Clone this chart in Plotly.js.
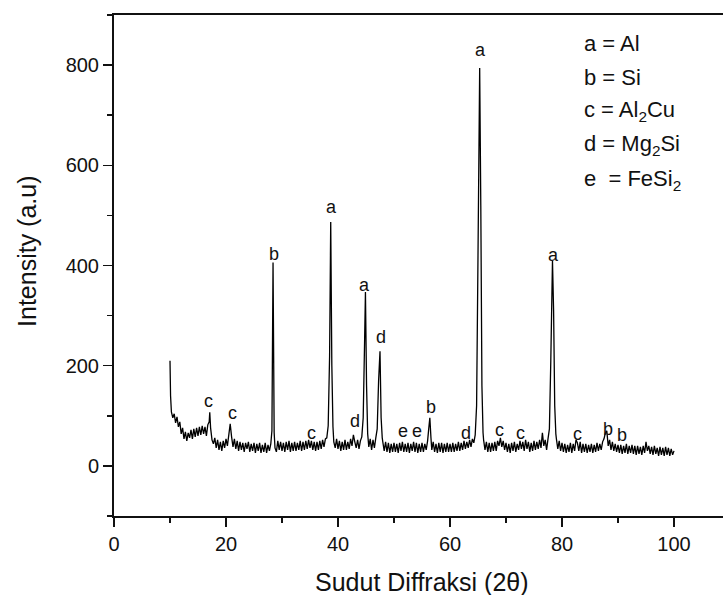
<!DOCTYPE html>
<html>
<head>
<meta charset="utf-8">
<script src="https://cdn.plot.ly/plotly-3.0.1.min.js"></script>
<style>html,body{margin:0;padding:0;background:#fff;}#chart{width:723px;height:595px;}</style>
</head>
<body>
<div id="chart"></div>
<script>
// Diffraction angle (2θ) and intensity (a.u.)
const angle = [
10.0,10.1,10.25,10.5,10.75,11.0,11.25,11.5,11.75,12.0,12.25,12.5,12.75,13.0,13.25,13.5,13.75,14.0,14.25,14.5,14.75,15.0,15.25,15.5,15.75,16.0,16.25,16.5,16.75,17.0,17.1,17.25,17.5,17.75,18.0,
18.25,18.5,18.75,19.0,19.25,19.5,19.75,20.0,20.25,20.5,20.75,21.0,21.25,21.5,21.75,22.0,22.25,22.5,22.75,23.0,23.25,23.5,23.75,24.0,24.25,24.5,24.75,25.0,25.25,25.5,25.75,26.0,26.25,26.5,26.75,27.0,27.25,27.5,27.75,28.0,28.2,28.4,28.6,28.75,
29.0,29.25,29.5,29.75,30.0,30.25,30.5,30.75,31.0,31.25,31.5,31.75,32.0,32.25,32.5,32.75,33.0,33.25,33.5,33.75,34.0,34.25,34.5,34.75,35.0,35.25,35.5,35.75,36.0,36.25,36.5,36.75,37.0,37.25,37.5,37.75,38.0,38.25,38.5,38.7,38.9,39.1,39.25,39.5,39.75,
40.0,40.25,40.5,40.75,41.0,41.25,41.5,41.75,42.0,42.25,42.5,42.75,43.0,43.25,43.5,43.75,44.0,44.25,44.5,44.75,44.9,45.1,45.3,45.5,45.75,46.0,46.25,46.5,46.75,47.0,47.25,47.5,47.7,47.9,48.0,48.25,48.5,48.75,49.0,49.25,49.5,49.75,
50.0,50.25,50.5,50.75,51.0,51.25,51.5,51.75,52.0,52.25,52.5,52.75,53.0,53.25,53.5,53.75,54.0,54.25,54.5,54.75,55.0,55.25,55.5,55.75,56.0,56.2,56.4,56.6,56.75,57.0,57.25,57.5,57.75,58.0,58.25,58.5,58.75,59.0,59.25,59.5,59.75,
60.0,60.25,60.5,60.75,61.0,61.25,61.5,61.75,62.0,62.25,62.5,62.75,63.0,63.25,63.5,63.75,64.0,64.25,64.5,64.75,65.0,65.3,65.5,65.7,65.9,66.0,66.25,66.5,66.75,67.0,67.25,67.5,67.75,68.0,68.25,68.5,68.75,69.0,69.25,69.5,69.75,
70.0,70.25,70.5,70.75,71.0,71.25,71.5,71.75,72.0,72.25,72.5,72.75,73.0,73.25,73.5,73.75,74.0,74.25,74.5,74.75,75.0,75.25,75.5,75.75,76.0,76.25,76.5,76.75,77.0,77.25,77.5,77.75,78.0,78.3,78.5,78.7,78.9,79.0,79.25,79.5,79.75,
80.0,80.25,80.5,80.75,81.0,81.25,81.5,81.75,82.0,82.25,82.5,82.75,83.0,83.25,83.5,83.75,84.0,84.25,84.5,84.75,85.0,85.25,85.5,85.75,86.0,86.25,86.5,86.75,87.0,87.25,87.5,87.75,88.0,88.25,88.5,88.75,89.0,89.25,89.5,89.75,
90.0,90.25,90.5,90.75,91.0,91.25,91.5,91.75,92.0,92.25,92.5,92.75,93.0,93.25,93.5,93.75,94.0,94.25,94.5,94.75,95.0,95.25,95.5,95.75,96.0,96.25,96.5,96.75,97.0,97.25,97.5,97.75,98.0,98.25,98.5,98.75,99.0,99.25,99.5,99.75,100.0
];
const intensity = [
210,140,108,96,104,86,98,78,88,64,76,54,68,50,66,56,72,54,74,58,76,60,78,62,80,64,78,60,82,88,107,76,52,44,56,
36,52,32,48,30,50,36,54,40,62,84,58,38,54,34,50,30,48,32,46,28,46,34,48,28,44,30,46,26,44,30,46,26,42,28,46,26,42,30,44,70,406,66,36,
28,50,32,48,30,46,28,48,32,50,28,46,30,48,30,46,32,50,30,48,32,50,34,52,36,50,32,48,30,48,32,50,34,52,38,54,56,80,220,487,200,78,48,36,54,
34,50,30,48,32,52,32,48,34,54,40,62,48,36,52,34,50,58,96,250,347,160,64,38,54,32,52,36,56,74,170,229,96,56,48,30,48,28,46,26,44,28,
46,28,44,26,46,30,48,28,44,28,46,26,44,30,48,28,46,26,44,28,46,28,44,32,50,74,96,56,32,48,28,44,26,46,28,46,26,44,28,46,28,
44,28,46,28,44,30,48,30,46,32,50,34,48,36,52,38,54,46,62,120,420,794,520,160,66,52,32,48,28,46,28,46,30,48,30,50,40,56,38,50,32,
46,28,44,26,46,30,48,28,44,32,50,34,48,30,52,34,48,28,46,30,50,32,48,34,52,36,66,40,52,32,54,74,210,410,310,120,64,54,34,50,30,
46,28,44,26,42,28,46,26,44,30,52,46,30,48,26,44,28,44,26,42,28,44,26,42,28,46,30,44,32,48,54,66,70,40,52,32,48,30,44,28,
42,26,42,24,40,26,44,24,40,26,42,24,40,22,40,24,38,22,40,26,48,30,40,24,38,22,40,24,36,20,38,22,36,20,38,22,36,20,34,22,30
];

// Phase labels placed on peaks
const peakLabel = ['c','c','b','c','a','d','a','d','e','e','b','d','a','c','c','a','c','b','b'];
const peakX = [16.8,21.1,28.6,35.2,38.75,43.0,44.8,47.7,51.6,54.1,56.6,62.9,65.4,68.9,72.5,78.4,82.7,88.2,90.7];
const peakY = [130,106,422,66,516,90,362,258,70,70,118,66,830,72,66,420,64,74,62];

// Key text
const keyText = ['a = Al','b = Si','c = Al<sub>2</sub>Cu','d = Mg<sub>2</sub>Si','e \u00A0= FeSi<sub>2</sub>'];
const keyY = [844,776,708,640,570];
const keyX = 83.6;

// Axis titles
const xTitle = 'Sudut Diffraksi (2θ)';
const yTitle = 'Intensity (a.u)';

const annotations = [];
for (let i = 0; i < peakLabel.length; i++) {
  annotations.push({x: peakX[i], y: peakY[i], xref: 'x', yref: 'y', text: peakLabel[i],
    showarrow: false, xanchor: 'center', yanchor: 'middle', font: {size: 18, color: '#111'}});
}
for (let i = 0; i < keyText.length; i++) {
  annotations.push({x: keyX, y: keyY[i], xref: 'x', yref: 'y', text: keyText[i],
    showarrow: false, xanchor: 'left', yanchor: 'middle', font: {size: 22, color: '#111'}});
}
annotations.push({x: 0.5057, y: -0.1317, xref: 'paper', yref: 'paper', text: xTitle,
  showarrow: false, xanchor: 'center', yanchor: 'middle', font: {size: 25, color: '#111'}});
annotations.push({x: -0.1429, y: 0.529, xref: 'paper', yref: 'paper', text: yTitle, textangle: -90,
  showarrow: false, xanchor: 'center', yanchor: 'middle', font: {size: 25, color: '#111'}});

const trace = {x: angle, y: intensity, type: 'scatter', mode: 'lines',
  line: {color: '#000', width: 1.3, simplify: false}, hoverinfo: 'skip'};

const layout = {
  width: 723, height: 595,
  margin: {l: 114, r: 0, t: 15, b: 79, pad: 0},
  paper_bgcolor: '#fff', plot_bgcolor: '#fff',
  font: {family: 'Liberation Sans, Arial, sans-serif', color: '#111'},
  showlegend: false,
  xaxis: {
    range: [0, 108.75], tickmode: 'linear', tick0: 0, dtick: 20,
    ticks: 'outside', ticklen: 9, tickwidth: 1.5, tickcolor: '#111',
    minor: {dtick: 10, ticks: 'outside', ticklen: 5, tickwidth: 1.5, tickcolor: '#111'},
    showline: true, linewidth: 2, linecolor: '#111', mirror: true,
    showgrid: false, zeroline: false,
    tickfont: {size: 20, color: '#111'}
  },
  yaxis: {
    range: [-100, 900], tickmode: 'linear', tick0: 0, dtick: 200,
    ticks: 'outside', ticklen: 9, tickwidth: 1.5, tickcolor: '#111',
    minor: {dtick: 100, ticks: 'outside', ticklen: 5, tickwidth: 1.5, tickcolor: '#111'},
    showline: true, linewidth: 2, linecolor: '#111', mirror: false,
    showgrid: false, zeroline: false,
    tickfont: {size: 20, color: '#111'}
  },
  annotations: annotations
};

Plotly.newPlot('chart', [trace], layout, {staticPlot: true, displayModeBar: false});
</script>
</body>
</html>
